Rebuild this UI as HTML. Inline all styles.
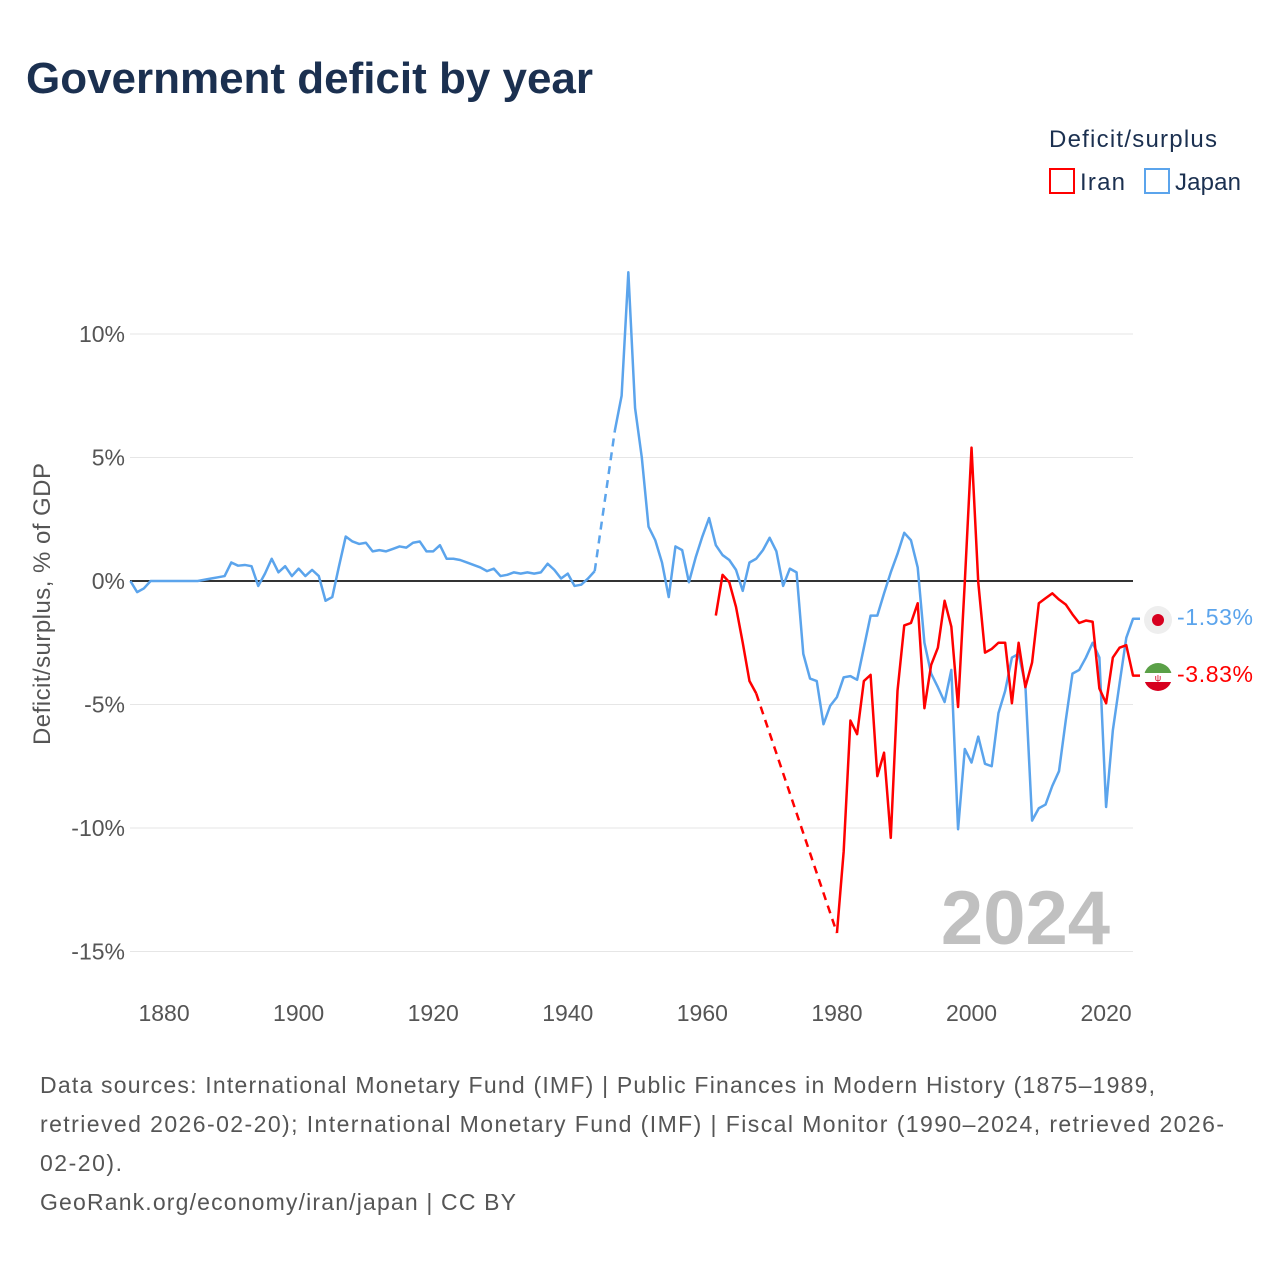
<!DOCTYPE html>
<html><head><meta charset="utf-8">
<style>
body{margin:0;background:#fff;font-family:"Liberation Sans",sans-serif;}
#wrap{position:relative;width:1280px;height:1280px;overflow:hidden;}
</style></head>
<body>
<div id="wrap">
<svg id="chart" width="1280" height="1280" style="font-family:'Liberation Sans',sans-serif">
<text x="26" y="93" font-size="44" font-weight="bold" fill="#1b3050" textLength="567">Government deficit by year</text>
<text x="1049" y="147" font-size="24" fill="#1b3050" textLength="168">Deficit/surplus</text>
<g><rect x="1050" y="169" width="24" height="24" fill="none" stroke="#ff0000" stroke-width="2"/><text x="1080" y="190" font-size="24" fill="#1b3050" textLength="45">Iran</text></g>
<g><rect x="1145" y="169" width="24" height="24" fill="none" stroke="#5ba4ec" stroke-width="2"/><text x="1175" y="190" font-size="24" fill="#1b3050" textLength="66">Japan</text></g>
<text transform="translate(50,604) rotate(-90)" font-size="24" fill="#555" text-anchor="middle" textLength="282">Deficit/surplus, % of GDP</text>
<g id="grid"></g>
<text x="1110" y="944" font-size="76" font-weight="bold" fill="#c0c0c0" text-anchor="end">2024</text>
<g id="series"></g>
<g><circle cx="1158" cy="620" r="14" fill="#eeeeee"/><circle cx="1158" cy="620" r="6" fill="#d7001f"/></g>
<g>
<clipPath id="fc"><circle cx="1158" cy="677" r="14"/></clipPath>
<g clip-path="url(#fc)"><rect x="1144" y="663" width="28" height="10" fill="#5aa047"/><rect x="1144" y="673" width="28" height="9" fill="#fff"/><rect x="1144" y="682" width="28" height="10" fill="#d7001f"/><text x="1158" y="681" font-size="9" fill="#d7001f" text-anchor="middle">ψ</text></g></g>
<text x="1177" y="625" font-size="23" fill="#5ba4ec" textLength="76">-1.53%</text>
<text x="1177" y="682" font-size="23" fill="#ff0000" textLength="76">-3.83%</text>
<g font-size="23" fill="#555">
<text x="40" y="1093" textLength="1115">Data sources: International Monetary Fund (IMF) | Public Finances in Modern History (1875–1989,</text>
<text x="40" y="1132" textLength="1184">retrieved 2026-02-20); International Monetary Fund (IMF) | Fiscal Monitor (1990–2024, retrieved 2026-</text>
<text x="40" y="1171" textLength="82">02-20).</text>
<text x="40" y="1210" textLength="476">GeoRank.org/economy/iran/japan | CC BY</text>
</g>
</svg>
</div>
<script>
const yearStart=1875;
const japan=[0,-0.45,-0.3,0,0,0,0,0,0,0,0,0.05,0.1,0.15,0.2,0.75,0.62,0.65,0.6,-0.2,0.3,0.9,0.35,0.6,0.2,0.5,0.2,0.45,0.2,-0.8,-0.65,0.6,1.8,1.6,1.5,1.55,1.2,1.25,1.2,1.3,1.4,1.35,1.55,1.6,1.2,1.2,1.45,0.9,0.9,0.85,0.75,0.65,0.55,0.4,0.5,0.2,0.25,0.35,0.3,0.35,0.3,0.35,0.7,0.45,0.1,0.3,-0.2,-0.15,0.1,0.4,null,null,6.1,7.5,12.5,7.0,5.0,2.2,1.65,0.75,-0.65,1.4,1.25,-0.05,0.95,1.8,2.55,1.45,1.05,0.85,0.45,-0.4,0.75,0.9,1.25,1.75,1.2,-0.2,0.5,0.35,-2.95,-3.95,-4.05,-5.8,-5.05,-4.7,-3.9,-3.85,-4.0,-2.7,-1.4,-1.4,-0.5,0.35,1.1,1.95,1.65,0.55,-2.5,-3.75,-4.3,-4.9,-3.6,-10.05,-6.8,-7.35,-6.3,-7.4,-7.5,-5.35,-4.45,-3.1,-2.95,-4.2,-9.7,-9.2,-9.05,-8.3,-7.7,-5.65,-3.75,-3.6,-3.1,-2.5,-3.1,-9.15,-6.05,-4.15,-2.3,-1.53];
const iranStart=1962;
const iran=[-1.4,0.25,-0.05,-1.05,-2.5,-4.05,-4.55,null,null,null,null,null,null,null,null,null,null,null,-14.25,-10.95,-5.65,-6.2,-4.05,-3.8,-7.9,-6.95,-10.4,-4.45,-1.8,-1.7,-0.9,-5.15,-3.4,-2.7,-0.8,-1.85,-5.1,-0.05,5.4,-0.05,-2.9,-2.75,-2.5,-2.5,-4.95,-2.5,-4.3,-3.3,-0.9,-0.7,-0.5,-0.75,-0.95,-1.35,-1.7,-1.6,-1.65,-4.35,-4.95,-3.1,-2.7,-2.6,-3.83];
const yTicks=[10,5,0,-5,-10,-15];
const xTicks=[1880,1900,1920,1940,1960,1980,2000,2020];
const NS="http://www.w3.org/2000/svg";
function xs(y){return 130.4+(y-1875)*6.729;}
function ys(v){return 581-v*24.7;}
const grid=document.getElementById('grid');
for(const t of yTicks){
  const l=document.createElementNS(NS,'line');
  
  
  l.setAttribute('x1',130);l.setAttribute('x2',1133);l.setAttribute('y1',ys(t));l.setAttribute('y2',ys(t));
  l.setAttribute('stroke',t===0?'#333':'#e6e6e6');l.setAttribute('stroke-width',t===0?2:1);
  grid.appendChild(l);
  const tx=document.createElementNS(NS,'text');
  
  
  tx.setAttribute('x',125);tx.setAttribute('y',ys(t)+8);tx.setAttribute('text-anchor','end');
  tx.setAttribute('font-size','23');tx.setAttribute('fill','#555');
  tx.textContent=t+'%';grid.appendChild(tx);
}
for(const t of xTicks){
  const tx=document.createElementNS(NS,'text');
  
  
  tx.setAttribute('x',xs(t));tx.setAttribute('y',1021);tx.setAttribute('text-anchor','middle');
  tx.setAttribute('font-size','23');tx.setAttribute('fill','#555');
  tx.textContent=t;grid.appendChild(tx);
}
const sg=document.getElementById('series');
function drawSeries(arr,start,color,name){
  let seg=[],segs=[],gaps=[],last=null;
  arr.forEach((v,i)=>{
    const yr=start+i;
    if(v===null){if(seg.length){segs.push(seg);seg=[];}return;}
    const p=[xs(yr),ys(v)];
    if(!seg.length&&last&&last.i<i-1)gaps.push([last.p,p]);
    seg.push(p);last={i,p};
  });
  if(seg.length){seg.push([1140,last.p[1]]);segs.push(seg);}
  for(const s of segs){
    const pl=document.createElementNS(NS,'polyline');
    
    
    pl.setAttribute('points',s.map(p=>p.join(',')).join(' '));
    pl.setAttribute('fill','none');pl.setAttribute('stroke',color);pl.setAttribute('stroke-width','2.5');
    pl.setAttribute('stroke-linejoin','round');
    sg.appendChild(pl);
  }
  for(const g of gaps){
    const l=document.createElementNS(NS,'line');
    
    
    l.setAttribute('x1',g[0][0]);l.setAttribute('y1',g[0][1]);l.setAttribute('x2',g[1][0]);l.setAttribute('y2',g[1][1]);
    l.setAttribute('stroke',color);l.setAttribute('stroke-width','2.5');l.setAttribute('stroke-dasharray','8,6');
    sg.appendChild(l);
  }
}
drawSeries(japan,yearStart,'#5ba4ec','japan');
drawSeries(iran,iranStart,'#ff0000','iran');
</script>
</body></html>
